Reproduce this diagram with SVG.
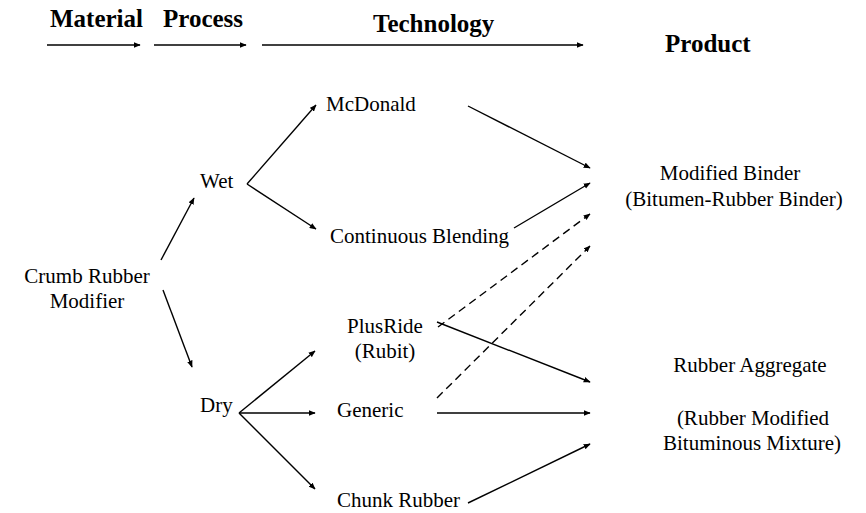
<svg xmlns="http://www.w3.org/2000/svg" width="866" height="513" viewBox="0 0 866 513">
<style>
.h{font-family:'Liberation Serif','DejaVu Serif',serif;font-weight:bold;font-size:25px;fill:#000}
.t{font-family:'Liberation Serif','DejaVu Serif',serif;font-size:21px;fill:#000}
.c{stroke:#000;stroke-width:1.4;fill:none;marker-end:url(#a)}
.d{stroke-dasharray:8 5}
</style>
<defs>
<marker id="a" viewBox="0 0 10 8" refX="9" refY="4" markerWidth="7" markerHeight="6" markerUnits="userSpaceOnUse" orient="auto">
<path d="M0,0 L10,4 L0,8 Z" fill="#000"/>
</marker>
</defs>
<g id="header">
<text class="h" x="50" y="27">Material</text>
<text class="h" x="163" y="27">Process</text>
<text class="h" x="373" y="32">Technology</text>
<text class="h" x="665" y="52">Product</text>
</g>
<g id="connectors">
<line class="c" x1="47" y1="45" x2="140" y2="45"/>
<line class="c" x1="154" y1="45" x2="246" y2="45"/>
<line class="c" x1="262" y1="45" x2="583" y2="45"/>
<line class="c" x1="161" y1="260" x2="194" y2="198"/>
<line class="c" x1="163" y1="290" x2="192" y2="367"/>
<line class="c" x1="247" y1="184" x2="316" y2="105"/>
<line class="c" x1="247" y1="184" x2="316" y2="229"/>
<line class="c" x1="239" y1="413" x2="315" y2="351"/>
<line class="c" x1="239" y1="413" x2="315" y2="413"/>
<line class="c" x1="239" y1="413" x2="315" y2="489"/>
<line class="c" x1="468" y1="106" x2="590" y2="168"/>
<line class="c" x1="514" y1="228" x2="590" y2="183"/>
<line class="c d" x1="438" y1="327" x2="590" y2="214"/>
<line class="c d" x1="437" y1="398" x2="590" y2="246"/>
<line class="c" x1="437" y1="322" x2="590" y2="382"/>
<line class="c" x1="437" y1="413" x2="590" y2="413"/>
<line class="c" x1="468" y1="503" x2="590" y2="444"/>
</g>
<g id="crumb"><text class="t" x="87" y="283" text-anchor="middle">Crumb Rubber</text><text class="t" x="87" y="308" text-anchor="middle">Modifier</text></g>
<g id="wet"><text class="t" x="200" y="188">Wet</text></g>
<g id="dry"><text class="t" x="200" y="412">Dry</text></g>
<g id="mcdonald"><text class="t" x="326" y="111">McDonald</text></g>
<g id="continuous"><text class="t" x="330" y="243">Continuous Blending</text></g>
<g id="plusride"><text class="t" x="385" y="333" text-anchor="middle">PlusRide</text><text class="t" x="385" y="358" text-anchor="middle">(Rubit)</text></g>
<g id="generic"><text class="t" x="337" y="417">Generic</text></g>
<g id="chunk"><text class="t" x="337" y="507">Chunk Rubber</text></g>
<g id="binder"><text class="t" x="730" y="180" text-anchor="middle">Modified Binder</text><text class="t" x="734" y="206" text-anchor="middle">(Bitumen-Rubber Binder)</text></g>
<g id="aggregate"><text class="t" x="750" y="372" text-anchor="middle">Rubber Aggregate</text><text class="t" x="753" y="425" text-anchor="middle">(Rubber Modified</text><text class="t" x="752" y="450" text-anchor="middle">Bituminous Mixture)</text></g>
</svg>
